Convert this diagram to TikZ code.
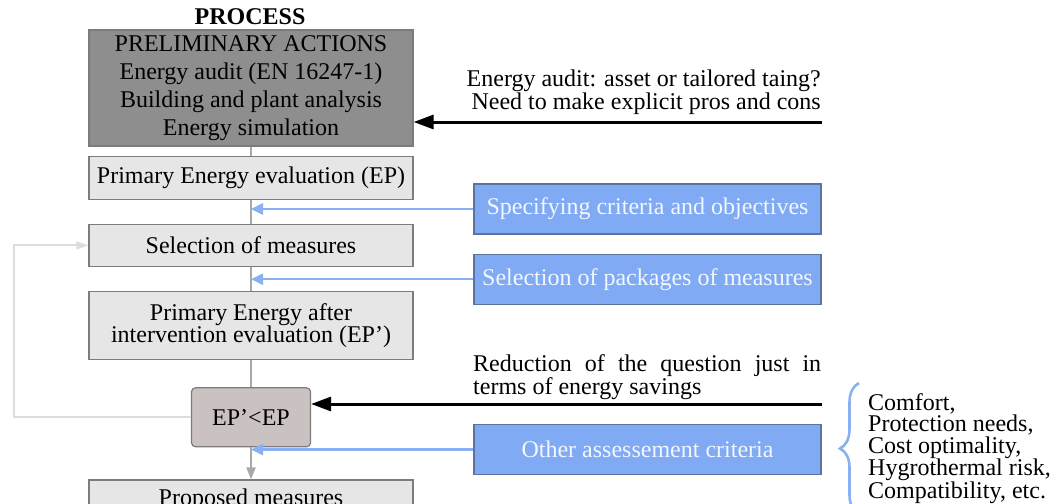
\documentclass[tikz,border=0pt]{standalone}
\usepackage{fontspec}
\setmainfont{Liberation Serif}
\usetikzlibrary{positioning,arrows.meta,decorations.pathreplacing}
\definecolor{ProcDark}{HTML}{8E8E8E}
\definecolor{ProcLight}{HTML}{E6E6E6}
\definecolor{ProcCheck}{HTML}{CAC2C0}
\definecolor{ProcEdge}{HTML}{7C7C7C}
\definecolor{CritBlue}{HTML}{80AAF4}
\definecolor{CritEdge}{HTML}{5C72A0}
\definecolor{CritLine}{HTML}{88B0F2}
\definecolor{LinkGray}{HTML}{A8A8A8}
\definecolor{LoopGray}{HTML}{DDDDDD}
\newcommand{\txtloose}{\fontsize{24}{28}\selectfont}
\newcommand{\txttight}{\fontsize{24}{21}\selectfont}
\newcommand{\txtlist}{\fontsize{24}{21.5}\selectfont}
\tikzset{procmain/.style={draw=ProcEdge, line width=1.2pt, fill=ProcDark, align=center, minimum width=324pt, minimum height=116pt, inner sep=2pt, font=\txtloose}, procstep/.style={draw=ProcEdge, line width=1.2pt, fill=ProcLight, align=center, minimum width=324pt, inner sep=2pt, font=\txttight}, proccheck/.style={draw=ProcEdge, rounded corners=4pt, line width=1.2pt, fill=ProcCheck, align=center, minimum width=119pt, minimum height=59pt, font=\txttight}, critbox/.style={draw=CritEdge, line width=1.2pt, fill=CritBlue, text=white!90!CritBlue, align=center, minimum width=347pt, minimum height=50pt, font=\txttight}, notetext/.style={font=\txttight, inner sep=0pt}, linkarrow/.style={line width=2pt, draw=LinkGray}, critarrow/.style={-{Triangle[length=12pt,width=11pt]}, line width=2.5pt, draw=CritLine}, notearrow/.style={-{Triangle[length=20pt,width=14pt]}, line width=3pt, draw=black}, looparrow/.style={-{Triangle[length=12pt,width=8pt]}, line width=2pt, draw=LoopGray}}
\begin{document}
\begin{tikzpicture}[x=1pt,y=-1pt,node distance=24pt]
\useasboundingbox (0,0) rectangle (1056,503);
\node[font=\txttight\bfseries, inner sep=0pt] (title) at (250,17) {PROCESS};
\node[procmain] (prelim) at (251,88) {PRELIMINARY ACTIONS\\Energy audit (EN 16247-1)\\Building and plant analysis\\Energy simulation};
\node[procstep, minimum height=43pt, below=9pt of prelim] (eval) {Primary Energy evaluation (EP)};
\node[procstep, minimum height=42pt, below=of eval] (select) {Selection of measures};
\node[procstep, minimum height=68pt, below=of select] (after) {Primary Energy after\\intervention evaluation (EP’)};
\node[proccheck, below=27pt of after] (check) {EP’<EP};
\node[procstep, minimum height=39pt, below=32pt of check] (proposed) {Proposed measures};
\node[critbox] (spec) at (647.5,209) {Specifying criteria and objectives};
\node[critbox, below=19pt of spec] (pack) {Selection of packages of measures};
\node[critbox] (other) at (647.5,449.5) {Other assessement criteria};
\node[notetext, align=right, anchor=south east] (auditnote) at (821,115) {Energy audit: asset or tailored taing?\\Need to make explicit pros and cons};
\node[notetext, align=justify, text width=348pt, anchor=south west] (reducenote) at (473,400) {Reduction of the question just in terms of energy savings};
\node[notetext, font=\txtlist, align=left, anchor=north west] (criteria) at (868,393) {Comfort,\\Protection needs,\\Cost optimality,\\Hygrothermal risk,\\Compatibility, etc.};
\coordinate (auditsrc) at (822,122);
\coordinate (reducesrc) at (822,404);
% main flow
\draw[linkarrow] (prelim) -- (eval);
\draw[linkarrow] (eval) -- (select);
\draw[linkarrow] (select) -- (after);
\draw[linkarrow] (after) -- (check);
\draw[linkarrow, -{Triangle[length=12pt,width=9pt]}] (check) -- (proposed);
\draw[looparrow] (check.west) -- ++(-177,0) |- (select.west);
% inputs
\draw[notearrow] (auditsrc) -- (auditsrc -| prelim.east);
\draw[notearrow] (reducesrc) -- (reducesrc -| check.east);
\draw[critarrow] (spec) -- (spec -| eval.south);
\draw[critarrow] (pack) -- (pack -| eval.south);
\draw[critarrow] (other) -- (other -| eval.south);
\draw[decorate, decoration={brace, amplitude=19pt}, CritLine, line width=2.6pt] (859,514) -- (859,383);
\end{tikzpicture}
\end{document}
